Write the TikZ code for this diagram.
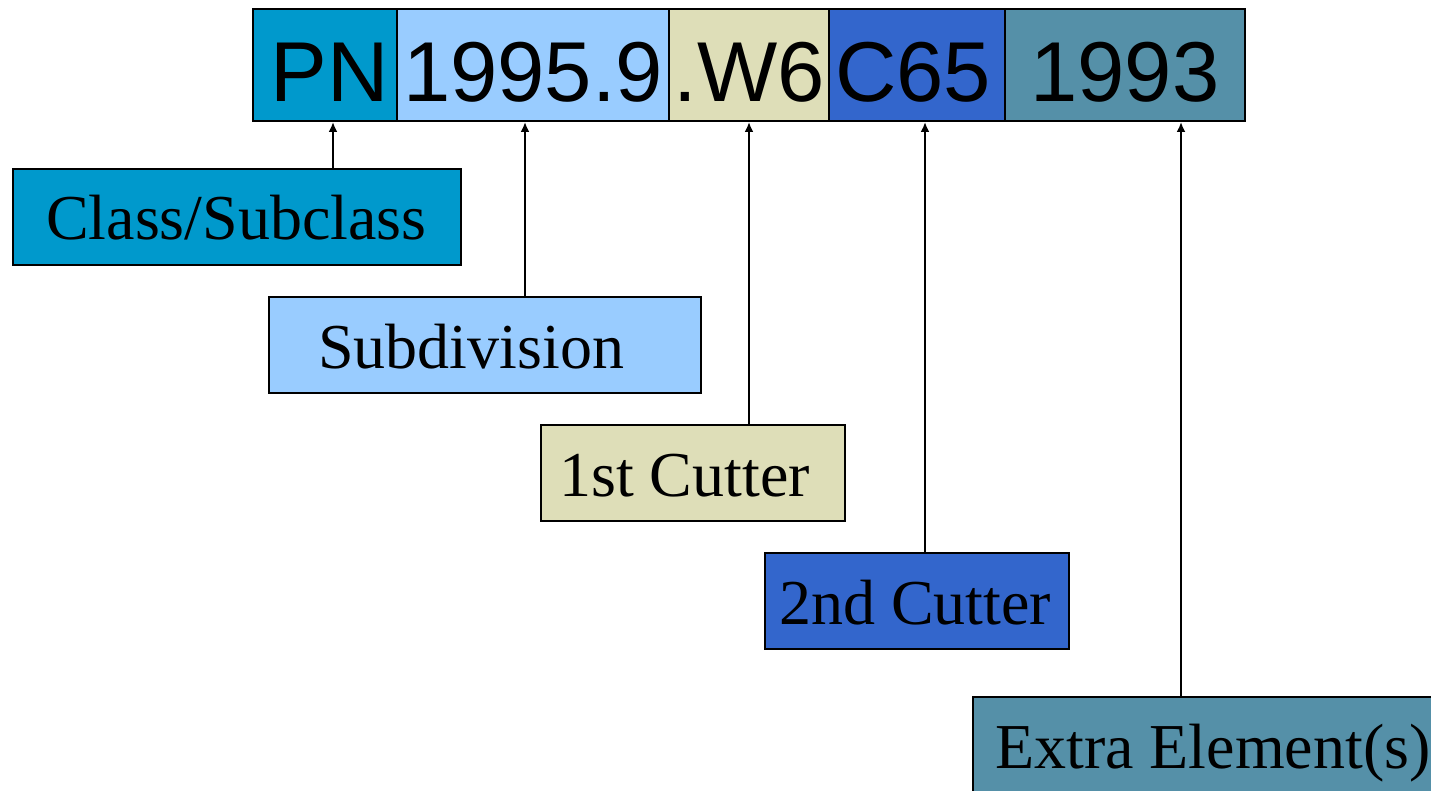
\documentclass[tikz,border=0pt]{standalone}
\usepackage{fontspec}
\setmainfont{Liberation Serif}
\newfontfamily\arialfont{Liberation Sans}
\usetikzlibrary{arrows.meta}
\definecolor{cpn}{HTML}{0099CC}
\definecolor{csub}{HTML}{99CCFF}
\definecolor{ccut}{HTML}{DEDEB8}
\definecolor{ccuttwo}{HTML}{3366CC}
\definecolor{cextra}{HTML}{5590A8}
\begin{document}
\begin{tikzpicture}[x=1pt,y=-1pt,
  topbox/.style={draw=black, line width=2pt, inner sep=0pt, minimum height=112pt,
    text height=74pt, text depth=0pt, font=\arialfont\fontsize{85}{85}\selectfont},
  lowbox/.style={draw=black, line width=2pt, inner sep=0pt, minimum height=96pt},
  lowtext/.style={anchor=base west, inner sep=0pt, font=\fontsize{64}{64}\selectfont},
  conn/.style={line width=2pt, -{Latex[length=10pt,width=9pt]}}]
\useasboundingbox (0,0) rectangle (1431,791);
% top call number
\node[topbox, fill=cpn, minimum width=144pt] (pn) at (325,65) {\hspace*{10pt}PN};
\node[topbox, fill=csub, minimum width=272pt] (num) at (533,65) {1995.9};
\node[topbox, fill=ccut, minimum width=160pt] (w6) at (749,65) {.W6};
\node[topbox, fill=ccuttwo, minimum width=176pt] (c65) at (917,65) {C65\hspace*{8pt}};
\node[topbox, fill=cextra, minimum width=240pt] (yr) at (1125,65) {1993};
% lower labels
\node[lowbox, fill=cpn, minimum width=448pt] (cls) at (237,217) {};
\node[lowtext] (clst) at (46,240) {Class/Subclass};
\node[lowbox, fill=csub, minimum width=432pt] (sub) at (485,345) {};
\node[lowtext] (subt) at (318,368) {Subdivision};
\node[lowbox, fill=ccut, minimum width=304pt] (cut1) at (693,473) {};
\node[lowtext] (cut1t) at (559,496) {1st Cutter};
\node[lowbox, fill=ccuttwo, minimum width=304pt] (cut2) at (917,601) {};
\node[lowtext] (cut2t) at (779,624) {2nd Cutter};
\node[lowbox, fill=cextra, minimum width=462pt] (extra) at (1204,745) {};
\node[lowtext] (extrat) at (995,768) {Extra Element(s)};
% connector x positions
\coordinate (a1) at (333,0);
\coordinate (a2) at (525,0);
\coordinate (a3) at (749,0);
\coordinate (a4) at (925,0);
\coordinate (a5) at (1181,0);
\draw[conn] (cls.north -| a1) -- (pn.south -| a1);
\draw[conn] (sub.north -| a2) -- (num.south -| a2);
\draw[conn] (cut1.north -| a3) -- (w6.south -| a3);
\draw[conn] (cut2.north -| a4) -- (c65.south -| a4);
\draw[conn] (extra.north -| a5) -- (yr.south -| a5);
\end{tikzpicture}
\end{document}
